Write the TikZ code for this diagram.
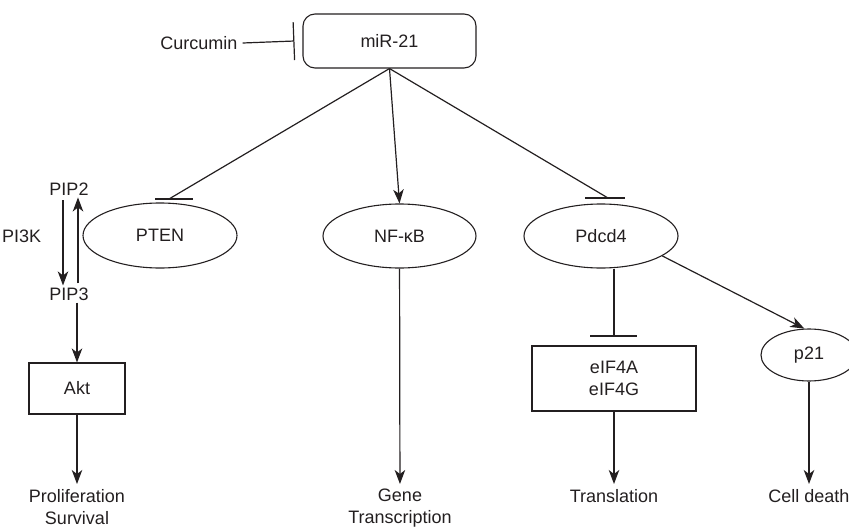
\documentclass[tikz,border=0pt]{standalone}
\usepackage{fontspec}
\setmainfont{Liberation Sans}
\usetikzlibrary{arrows.meta, shapes.geometric, positioning, calc}
\definecolor{PathInk}{HTML}{231F20}
\tikzset{
  lbl/.style={text=PathInk, font=\fontsize{18}{22}\selectfont, inner sep=2pt, align=center},
  oval/.style={lbl, ellipse, draw=PathInk, line width=1.1pt, inner sep=0pt},
  box/.style={lbl, rectangle, draw=PathInk, line width=1.1pt},
  hub/.style={box, rounded corners=12pt, minimum width=173pt, minimum height=54pt},
  link/.style={draw=PathInk, line width=1.2pt},
  act/.style={link, -{Stealth[length=14pt, width=10.5pt, inset=4pt]}},
  inh/.style={link, -{Bar[width=38pt, line width=1.2pt]}}
}

\begin{document}
\begin{tikzpicture}[x=1pt, y=-1pt]
  \useasboundingbox (0,0) rectangle (849,527);

  % Top regulator and its inhibitor
  \node[hub] (mir) at (389.5,41) {miR-21};
  \node[lbl] (curc) at (199,43) {Curcumin};
  \draw[inh] ([xshift=3pt]curc.east) -- ([xshift=-8pt]mir.west);

  % Three targets of miR-21
  \node[oval, minimum width=154pt, minimum height=65pt] (pten) at (160,235.5) {PTEN};
  \node[oval, minimum width=153pt, minimum height=64pt] (nfkb) at (399.5,236) {NF-κB};
  \node[oval, minimum width=154pt, minimum height=64pt] (pdcd) at (601,236) {Pdcd4};
  \coordinate (ptenhit) at (169,199);
  \coordinate (pdcdhit) at (608,198);
  \draw[link] (mir.south) -- (ptenhit);
  \draw[link] ([xshift=-14pt]ptenhit) -- ([xshift=24pt]ptenhit);
  \draw[act] (mir.south) -- (nfkb.north);
  \draw[link] (mir.south) -- (pdcdhit);
  \draw[link] ([xshift=-23pt]pdcdhit) -- ([xshift=17pt]pdcdhit);

  % PIP2 / PIP3 cycle
  \node[lbl] (pip2) at (69,189) {PIP2};
  \node[lbl] (pip3) at (69,294) {PIP3};
  \node[lbl, anchor=west] (pi3k) at (0,236) {PI3K};
  \draw[act, shorten <=3pt] ([xshift=-6pt]pip2.south) -- ([xshift=-6pt]pip3.north);
  \draw[act, shorten <=2pt] ([xshift=9pt]pip3.north) -- ([xshift=9pt]pip2.south);

  % Akt branch
  \node[box, minimum width=96pt, minimum height=51pt] (akt) at (77,388.5) {Akt};
  \node[lbl, anchor=north] (prolif) at (77,487) {Proliferation\\Survival};
  \draw[act] (pip3.south -| akt.north) -- (akt.north);
  \draw[act, shorten >=3pt] (akt) -- (prolif);

  % NF-kB output
  \node[lbl, anchor=north] (gene) at (400,487) {Gene\\Transcription};
  \draw[act, shorten >=3pt] (nfkb) -- (gene);

  % Pdcd4 branch
  \node[box, minimum width=164pt, minimum height=65pt] (eif) at (614,378.5) {eIF4A\\eIF4G};
  \coordinate (eifhit) at (614,336);
  \draw[link] (pdcd.south -| eif.north) -- (eifhit);
  \draw[link] ([xshift=-24pt]eifhit) -- ([xshift=23pt]eifhit);
  \node[lbl, anchor=north] (transl) at (614,487) {Translation};
  \draw[act, shorten >=3pt] (eif) -- (transl);
  \node[oval, minimum width=96pt, minimum height=52pt] (p21) at (809,355) {p21};
  \draw[act] (pdcd.-18) -- (p21.100);
  \node[lbl, anchor=north] (death) at (809,487) {Cell death};
  \draw[act, shorten >=3pt] (p21) -- (death);

\end{tikzpicture}
\end{document}
